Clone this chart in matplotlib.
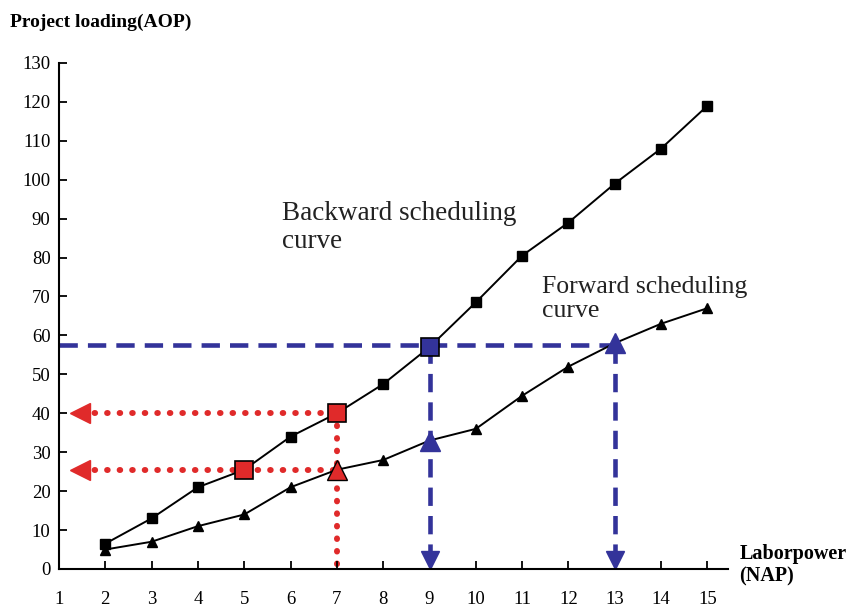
import matplotlib.pyplot as plt

plt.rcParams['font.family'] = ['Liberation Serif', 'DejaVu Serif']

nap = [2, 3, 4, 5, 6, 7, 8, 9, 10, 11, 12, 13, 14, 15]
backward = [6.5, 13, 21, 25.5, 34, 40, 47.5, 57, 68.5, 80.5, 89, 99, 108, 119]
forward = [5, 7, 11, 14, 21, 25.5, 28, 33, 36, 44.5, 52, 58, 63, 67]

# highlighted points
red_sq_x = [5, 7]
red_sq_y = [25.5, 40]
red_tri_x = [7]
red_tri_y = [25.5]
blue_sq_x = [9]
blue_sq_y = [57]
blue_tri_x = [9, 13]
blue_tri_y = [33, 58]

blue_level = 57.5
red_levels = [40, 25.5]

xticks = list(range(1, 16))
yticks = list(range(0, 131, 10))

red = '#e02a2a'
blue = '#33339a'

fig = plt.figure(figsize=(8.67, 6.09), dpi=100)
ax = fig.add_axes([0.068, 0.0657, 0.772, 0.831])

# guide lines
ax.plot([1, 13], [blue_level, blue_level], color=blue, lw=3.3, ls=(0, (4.0, 2.2)), zorder=1)
for xv in blue_tri_x:
    ax.plot([xv, xv], [blue_level, 2], color=blue, lw=3.3, ls=(0, (4.0, 2.2)), zorder=1)
    ax.plot([xv], [2.2], marker='v', color=blue, ms=13, zorder=2)
for yv in red_levels:
    ax.plot([1.5, 7], [yv, yv], color=red, lw=4.3, ls=(0, (0.1, 2.0)),
            dash_capstyle='round', zorder=1)
    ax.plot([1.45], [yv], marker='<', color=red, ms=15, zorder=2)
ax.plot([7, 7], [red_levels[0], 0.8], color=red, lw=4.3, ls=(0, (0.1, 2.0)),
        dash_capstyle='round', zorder=1)

# curves
ax.plot(nap, backward, color='black', lw=1.4, marker='s', ms=7, zorder=3)
ax.plot(nap, forward, color='black', lw=1.4, marker='^', ms=7, zorder=3)

ax.plot(red_sq_x, red_sq_y, ls='none', marker='s', ms=13, mfc=red, mec='black', mew=1.2, zorder=4)
ax.plot(red_tri_x, red_tri_y, ls='none', marker='^', ms=14, mfc=red, mec='black', mew=1.0, zorder=4)
ax.plot(blue_sq_x, blue_sq_y, ls='none', marker='s', ms=13, mfc=blue, mec='black', mew=1.2, zorder=4)
ax.plot(blue_tri_x, blue_tri_y, ls='none', marker='^', ms=14, mfc=blue, mec=blue, mew=1.0, zorder=4)

ax.set_xlim(1, 15.45)
ax.set_ylim(0, 130)
ax.set_xticks(xticks)
ax.set_yticks(yticks)
ax.spines['top'].set_visible(False)
ax.spines['right'].set_visible(False)
ax.spines['left'].set_linewidth(1.5)
ax.spines['bottom'].set_linewidth(1.5)
ax.tick_params(axis='both', direction='in', length=6, width=1.3, labelsize=13.5, colors='black')
ax.tick_params(axis='x', pad=16)
ax.tick_params(axis='y', pad=6)

ax.text(5.82, 82.5, 'Backward scheduling\ncurve', fontsize=19.5, ha='left', va='baseline',
        linespacing=1.15, color='#222222')
ax.text(11.43, 64.7, 'Forward scheduling\ncurve', fontsize=18.5, ha='left', va='baseline',
        linespacing=1.1, color='#222222')

fig.text(0.011, 0.963, 'Project loading(AOP)', fontsize=14, fontweight='bold', ha='left', va='center')
fig.text(0.853, 0.072, 'Laborpower\n(NAP)', fontsize=14.5, fontweight='bold', ha='left', va='center',
         linespacing=1.15)

fig.savefig('out.png', dpi=100)
